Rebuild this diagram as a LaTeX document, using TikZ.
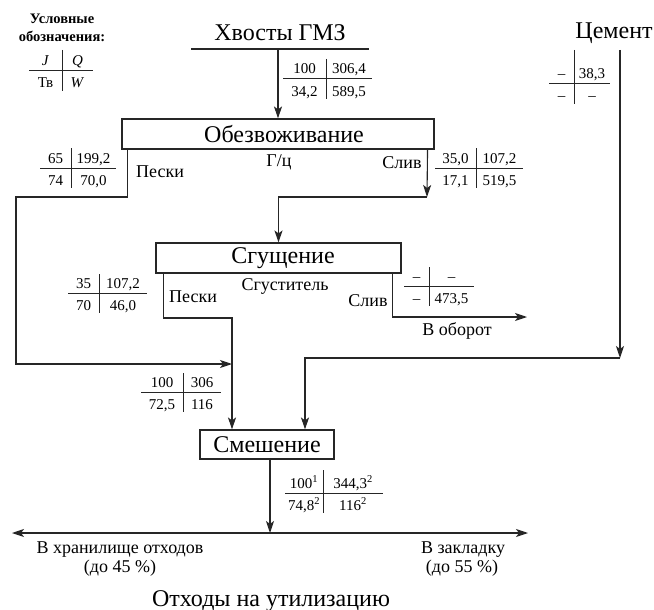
\documentclass[tikz,border=0pt]{standalone}
\usepackage{fontspec}
\setmainfont{Liberation Serif}
\usetikzlibrary{arrows.meta}
\tikzset{
  flow/.style={line width=1.1pt, draw=black!85},
  arr/.style={flow, -{Stealth[length=12pt,width=8pt,inset=3pt]}},
  darr/.style={flow, {Stealth[length=12pt,width=8pt,inset=3pt]}-{Stealth[length=12pt,width=8pt,inset=3pt]}},
  tabline/.style={line width=1pt, draw=black!85},
  num/.style={font=\fontsize{15}{18}\selectfont, anchor=base, inner sep=0pt},
  lbl/.style={font=\fontsize{18}{21}\selectfont, anchor=base, inner sep=0pt},
  ttl/.style={font=\fontsize{24}{28}\selectfont, anchor=base, inner sep=0pt},
  box/.style={draw=black!85, line width=1.1pt, inner sep=0pt, font=\fontsize{24}{28}\selectfont},
  leg/.style={font=\fontsize{14.5}{16}\selectfont\bfseries, anchor=base, inner sep=0pt}
}
\newcommand\ctab[9][20]{%
  \coordinate (#2) at (#3);
  \draw[tabline] ([xshift=-#4pt]#2) -- ([xshift=#5pt]#2);
  \draw[tabline] ([yshift=#1pt]#2) -- ([yshift=-20pt]#2);
  \node[num] (#2a) at ([xshift=-#4pt/2,yshift=5pt]#2) {#6};
  \node[num] (#2b) at ([xshift=#5pt/2,yshift=5pt]#2) {#7};
  \node[num] (#2c) at ([xshift=-#4pt/2,yshift=-17pt]#2) {#8};
  \node[num] (#2d) at ([xshift=#5pt/2,yshift=-17pt]#2) {#9};
}
\begin{document}
\begin{tikzpicture}[x=1pt,y=-1pt]
\useasboundingbox (0,0) rectangle (654,610);

% legend
\node[leg] (leg1) at (62,24) {Условные};
\node[leg] (leg2) at (62,42) {обозначения:};
\ctab[21]{lg}{62,71}{33}{31}{\textit{J}}{\textit{Q}}{Тв}{\textit{W}}

% source
\node[ttl] (hv) at (280,41) {Хвосты ГМЗ};
\coordinate (hvL) at (191,49);
\coordinate (hvR) at (369,49);
\coordinate (hvA) at (278,49);
\draw[flow] (hvL) -- (hvR);

\node[ttl] (cem) at (614,39) {Цемент};

% boxes
\node[box, minimum width=312pt, minimum height=30pt] (ob) at (278,134) {\hspace*{12pt}Обезвоживание};
\node[box, minimum width=245pt, minimum height=30pt] (sg) at (278.5,258) {\hspace*{9pt}Сгущение};
\node[box, minimum width=134pt, minimum height=29pt] (sm) at (267,444.5) {Смешение};

% tables
\ctab{tA}{326,79}{43}{46}{100}{306,4}{34,2}{589,5}
\ctab{tP}{71,168}{31}{45}{65}{199,2}{74}{70,0}
\ctab{tS}{476,168}{41}{47}{35,0}{107,2}{17,1}{519,5}
\ctab[34]{tC}{574,84}{25}{36}{–}{38,3}{–}{–}
\ctab[19]{tQ}{99,293}{31}{48}{35}{107,2}{70}{46,0}
\ctab[19]{tR}{429,286}{25}{45}{–}{–}{–}{473,5}
\ctab[19]{tM}{183,392}{42}{38}{100}{306}{72,5}{116}
\ctab[23]{tO}{323,493}{38}{60}{100\textsuperscript{1}}{344,3\textsuperscript{2}}{74,8\textsuperscript{2}}{116\textsuperscript{2}}

% labels
\node[lbl] (gc) at (279,166) {Г/ц};
\node[lbl] (pes1) at (160,177) {Пески};
\node[lbl] (sl1) at (402,168) {Слив};
\node[lbl] (sgt) at (285,290) {Сгуститель};
\node[lbl] (pes2) at (193,302) {Пески};
\node[lbl] (sl2) at (368,306) {Слив};
\node[lbl] (obr) at (457,335) {В оборот};
\node[lbl] (hr1) at (120,553) {В хранилище отходов};
\node[lbl] (hr2) at (120,572) {(до 45 \%)};
\node[lbl] (zk1) at (463,553) {В закладку};
\node[lbl] (zk2) at (462,572) {(до 55 \%)};
\node[ttl] (util) at (271,606) {Отходы на утилизацию};

% coordinates
\coordinate (pk1) at (16,197);
\coordinate (m1) at (232,364);
\coordinate (m2) at (232,318);
\coordinate (s1) at (427,197);
\coordinate (ob2) at (527,317);
\coordinate (c1) at (620,50);
\coordinate (c2) at (620,358);
\coordinate (o1) at (270,533);
\coordinate (oL) at (12,533);
\coordinate (oR) at (528,533);

% connectors
\draw[arr] (hvA) -- (ob.north);
\draw[arr] ([xshift=6pt]ob.south west) |- (pk1) |- (m1);
\draw[arr] ([xshift=-7pt]ob.south east) -- (s1);
\draw[arr] (s1) -| (sg.north);
\draw[arr] ([xshift=8pt]sg.south west) |- (m2) -- (m2 |- sm.north);
\draw[arr] ([xshift=-9pt]sg.south east) |- (ob2);
\draw[arr] (c1) -- (c2);
\draw[arr] (c2) -| ([xshift=38pt]sm.north);
\draw[arr] ([xshift=3pt]sm.south) -- (o1);
\draw[darr] (oL) -- (oR);
\end{tikzpicture}
\end{document}
